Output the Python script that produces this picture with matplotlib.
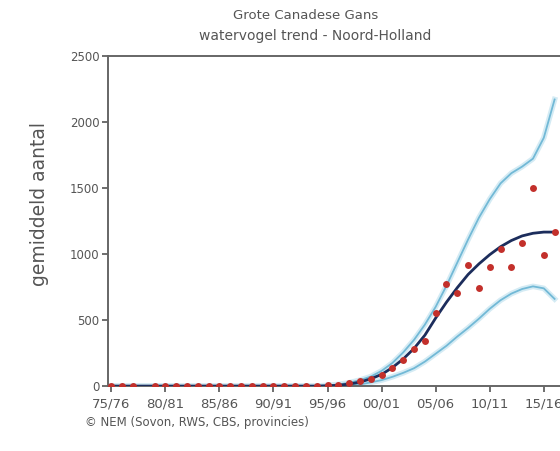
import matplotlib.pyplot as plt

# seasons (first year of season), points for 1978 missing
years = [1975, 1976, 1977] + list(range(1979, 2017))
counts = [0, 0, 0,
          0, 0, 0, 0, 0, 0, 0, 0, 0, 0,
          0, 0, 0, 0, 1, 2, 5, 10, 20, 35, 50,
          85, 140, 200, 278, 343, 551, 770, 707, 917, 740,
          904, 1035, 904, 1086, 1498, 992, 1169]

trend_years = list(range(1975, 2017))
trend = [0] * 20 + [2, 6, 15, 30, 55, 88, 140, 205, 285, 385, 515, 635,
                    745, 845, 925, 995, 1055, 1102, 1137, 1157, 1166, 1166]
upper = [0] * 20 + [6, 12, 25, 45, 72, 115, 175, 255, 350, 465, 600, 760,
                    935, 1110, 1275, 1415, 1535, 1612, 1662, 1722, 1880, 2170]
lower = [0] * 20 + [0, 2, 5, 12, 28, 45, 70, 100, 135, 185, 245, 305,
                    375, 440, 510, 585, 650, 700, 735, 755, 740, 660]

tick_years = [1975, 1980, 1985, 1990, 1995, 2000, 2005, 2010, 2015]
tick_labels = ["75/76", "80/81", "85/86", "90/91", "95/96",
               "00/01", "05/06", "10/11", "15/16"]

fig = plt.figure(figsize=(5.6, 4.51), dpi=100)
ax = fig.add_axes([0.193, 0.144, 0.807, 0.732])

txt = "#555555"
blue = "#72b9d6"
for band in (upper, lower):
    ax.plot(trend_years, band, color="#d4ebf4", lw=4, zorder=1)
    ax.plot(trend_years, band, color=blue, lw=1.3, zorder=2)
ax.plot(trend_years, trend, color="#1c2d5c", lw=2, zorder=3)
ax.plot(years, counts, "o", color="#c3302b", ms=5, mec="none", zorder=4)

ax.set_xlim(1974.7, 2016.5)
ax.set_ylim(0, 2500)
ax.set_yticks([0, 500, 1000, 1500, 2000, 2500])
ax.set_xticks(tick_years)
ax.set_xticklabels(tick_labels)
ax.tick_params(colors=txt, length=4, width=1.2)
ax.tick_params(axis="y", labelsize=8.5, pad=2)
ax.tick_params(axis="x", labelsize=9.5, pad=4)

for side in ("left", "bottom", "top"):
    ax.spines[side].set_color("#666666")
    ax.spines[side].set_linewidth(1.4)
ax.spines["right"].set_visible(False)

fig.text(0.071, 1 - 204 / 451, "gemiddeld aantal", rotation=90,
         ha="center", va="center", fontsize=13.5, color=txt)
fig.text(0.545, 0.965, "Grote Canadese Gans", ha="center", va="center",
         fontsize=9.5, color=txt)
fig.text(0.563, 0.921, "watervogel trend - Noord-Holland", ha="center",
         va="center", fontsize=10, color=txt)
fig.text(0.152, 0.063, "\u00a9 NEM (Sovon, RWS, CBS, provincies)",
         ha="left", va="center", fontsize=8.5, color=txt)

fig.savefig("out.png", dpi=100)
